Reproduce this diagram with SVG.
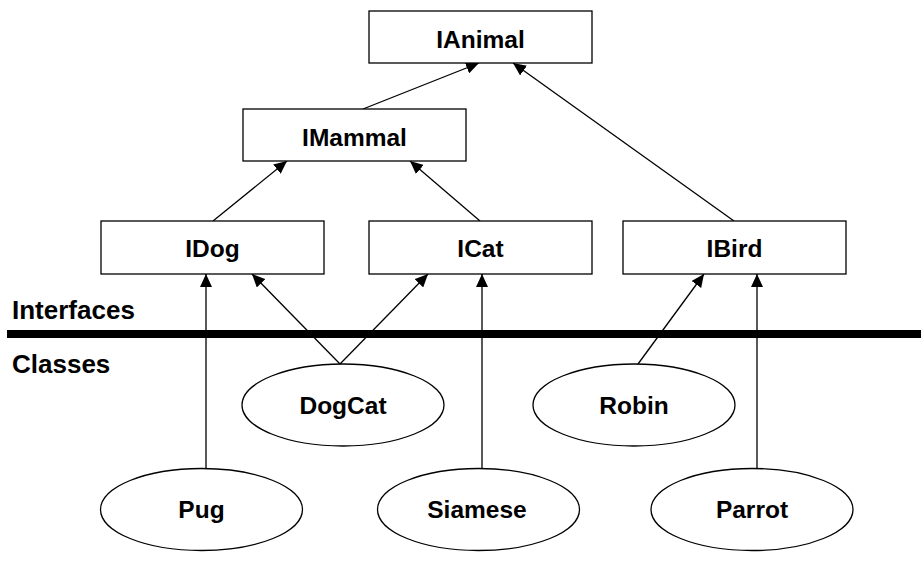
<svg xmlns="http://www.w3.org/2000/svg" width="921" height="572" viewBox="0 0 921 572">
  <style>
    .box { fill: #ffffff; stroke: #000000; stroke-width: 1.3; }
    .lbl { font-family: "Liberation Sans", Arial, sans-serif; font-weight: bold; font-size: 24.5px; fill: #000000; text-anchor: middle; }
    .side { font-family: "Liberation Sans", Arial, sans-serif; font-weight: bold; font-size: 26px; fill: #000000; }
    .edge { stroke: #000000; stroke-width: 1.3; fill: none; marker-end: url(#tri); }
  </style>
  <defs>
    <marker id="tri" markerUnits="userSpaceOnUse" markerWidth="14" markerHeight="12" refX="13" refY="6" orient="auto">
      <path d="M0,0 L13,6 L0,12 Z" fill="#000000"/>
    </marker>
  </defs>
  <rect width="921" height="572" fill="#ffffff"/>

  <!-- divider between interfaces and classes -->
  <rect x="7" y="330" width="914" height="8" fill="#000000"/>
  <text class="side" x="12" y="319">Interfaces</text>
  <text class="side" x="12" y="373">Classes</text>

  <!-- inheritance arrows -->
  <g id="connectors">
    <line class="edge" x1="363" y1="109" x2="479" y2="63"/>
    <line class="edge" x1="734" y1="221" x2="513" y2="63"/>
    <line class="edge" x1="213" y1="221" x2="287" y2="161"/>
    <line class="edge" x1="480" y1="221" x2="410" y2="161"/>
    <line class="edge" x1="206" y1="468" x2="206" y2="274"/>
    <line class="edge" x1="340" y1="364" x2="252" y2="274"/>
    <line class="edge" x1="340" y1="364" x2="428" y2="274"/>
    <line class="edge" x1="482" y1="468" x2="482" y2="274"/>
    <line class="edge" x1="638" y1="364" x2="704" y2="274"/>
    <line class="edge" x1="757" y1="468" x2="757" y2="274"/>
  </g>

  <!-- interfaces -->
  <g id="IAnimal">
    <rect class="box" x="369" y="11" width="223" height="52"/>
    <text class="lbl" x="480.5" y="47.5">IAnimal</text>
  </g>
  <g id="IMammal">
    <rect class="box" x="243" y="109" width="223" height="52"/>
    <text class="lbl" x="354.5" y="145.5">IMammal</text>
  </g>
  <g id="IDog">
    <rect class="box" x="101" y="221" width="223" height="53"/>
    <text class="lbl" x="212.5" y="257">IDog</text>
  </g>
  <g id="ICat">
    <rect class="box" x="369" y="221" width="223" height="53"/>
    <text class="lbl" x="480.5" y="257">ICat</text>
  </g>
  <g id="IBird">
    <rect class="box" x="623" y="221" width="223" height="53"/>
    <text class="lbl" x="734.5" y="257">IBird</text>
  </g>

  <!-- classes -->
  <g id="DogCat">
    <ellipse class="box" cx="343" cy="405" rx="101" ry="41"/>
    <text class="lbl" x="343" y="413.5">DogCat</text>
  </g>
  <g id="Robin">
    <ellipse class="box" cx="634" cy="405" rx="101" ry="41"/>
    <text class="lbl" x="634" y="413.5">Robin</text>
  </g>
  <g id="Pug">
    <ellipse class="box" cx="201.5" cy="509.5" rx="101" ry="41"/>
    <text class="lbl" x="201.5" y="517.5">Pug</text>
  </g>
  <g id="Siamese">
    <ellipse class="box" cx="478.5" cy="509.5" rx="101" ry="41"/>
    <text class="lbl" x="477" y="517.5">Siamese</text>
  </g>
  <g id="Parrot">
    <ellipse class="box" cx="752" cy="509.5" rx="101" ry="41"/>
    <text class="lbl" x="752" y="517.5">Parrot</text>
  </g>
</svg>
